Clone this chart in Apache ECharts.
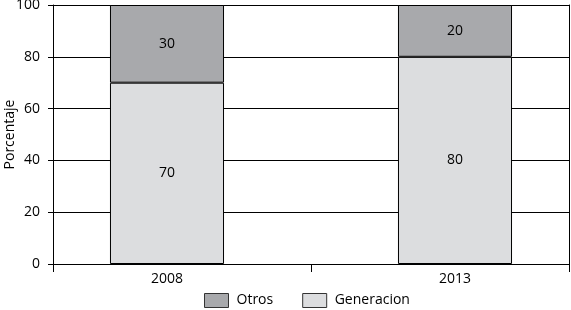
<!DOCTYPE html>
<html><head><meta charset="utf-8">
<script src="https://cdn.jsdelivr.net/npm/echarts@6/dist/echarts.min.js"></script>
<style>html,body{margin:0;padding:0;background:#fff}#c{width:571px;height:310px}</style>
</head><body><div id="c"></div>
<script>
const categories = ['2008', '2013'];
const generacion = [70, 80];
const otros = [30, 20];
const yTicks = [0, 20, 40, 60, 80, 100];
const FONT = '"Open Sans", "Noto Sans", sans-serif';

const chart = echarts.init(document.getElementById('c'), null, {renderer: 'canvas'});
const gTop = 5, gBottom = 46;
chart.setOption({
  animation: false,
  textStyle: {fontFamily: FONT, color: '#000'},
  legend: {
    top: 293, left: 204, itemGap: 29, itemWidth: 24, itemHeight: 14, icon: 'rect',
    padding: 0,
    data: ['Otros', 'Generacion'],
    textStyle: {fontFamily: FONT, fontSize: 14, color: '#000', padding: [0, 0, 0, 3]},
    itemStyle: {borderColor: '#333', borderWidth: 1}
  },
  grid: [
    {left: 53, right: 2, top: gTop, bottom: gBottom, outerBoundsMode: 'none', containLabel: false},
    {left: 23, right: -28, top: gTop, bottom: gBottom, outerBoundsMode: 'none', containLabel: false}
  ],
  xAxis: [
    {type: 'category', gridIndex: 0, data: ['', ''], boundaryGap: true,
     axisLine: {lineStyle: {color: '#000', width: 1}},
     axisTick: {show: true, length: 8, lineStyle: {color: '#000'}},
     axisLabel: {show: false}},
    {type: 'category', gridIndex: 1, data: categories,
     axisLine: {show: false}, axisTick: {show: false},
     axisLabel: {margin: 8, fontSize: 14, color: '#000', fontFamily: FONT}}
  ],
  yAxis: [
    {type: 'value', gridIndex: 0, min: yTicks[0], max: yTicks[yTicks.length - 1], interval: 20,
     name: 'Porcentaje', nameLocation: 'middle', nameGap: 36, nameRotate: 90, nameMoveOverlap: false,
     nameTextStyle: {fontSize: 14, color: '#000', fontFamily: FONT},
     axisLine: {show: true, lineStyle: {color: '#000'}},
     axisTick: {show: true, length: 5, lineStyle: {color: '#000'}},
     axisLabel: {fontSize: 14, color: '#000', margin: 13, fontFamily: FONT},
     splitLine: {show: true, lineStyle: {color: '#000', width: 1}}},
    {type: 'value', gridIndex: 0, position: 'right', min: 0, max: 100, interval: 20,
     axisLine: {show: true, lineStyle: {color: '#000'}},
     axisTick: {show: false}, axisLabel: {show: false}, splitLine: {show: false}},
    {type: 'value', gridIndex: 1, min: 0, max: 100, interval: 20, show: false}
  ],
  series: [
    {name: 'Generacion', type: 'bar', stack: 's', xAxisIndex: 1, yAxisIndex: 2,
     data: generacion, barWidth: '39.6%',
     itemStyle: {color: '#dcdddf', borderColor: '#000', borderWidth: 1},
     label: {show: true, position: 'inside', color: '#000', fontSize: 14, fontFamily: FONT}},
    {name: 'Otros', type: 'bar', stack: 's', xAxisIndex: 1, yAxisIndex: 2,
     data: otros, barWidth: '39.6%',
     itemStyle: {color: '#a8a9ac', borderColor: '#000', borderWidth: 1},
     label: {show: true, position: 'inside', color: '#000', fontSize: 14, fontFamily: FONT}}
  ]
});
</script></body></html>
